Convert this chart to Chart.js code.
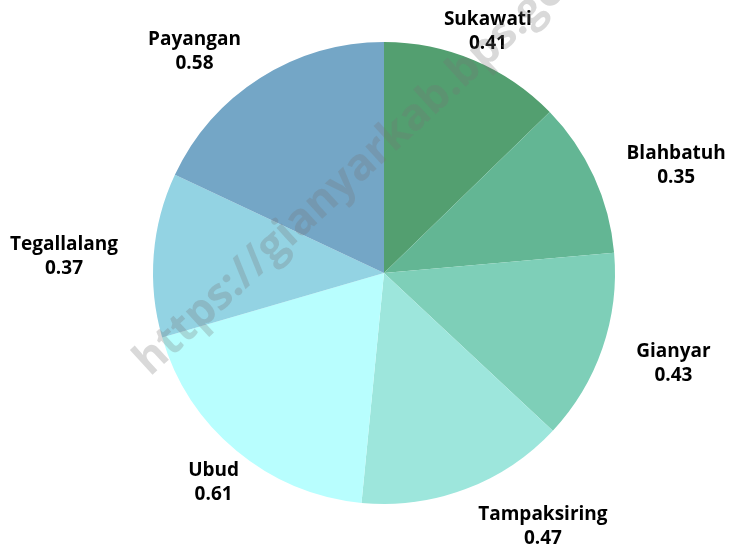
<!DOCTYPE html>
<html>
<head>
<meta charset="utf-8">
<script src="https://cdn.jsdelivr.net/npm/chart.js@4"></script>
<style>
  html, body { margin:0; padding:0; background:#fff; }
  #wrap { width:729px; height:549px; position:relative; }
</style>
</head>
<body>
<div id="wrap"><canvas id="pie"></canvas></div>
<script>
// kecamatan & values
const districts = ['Sukawati','Blahbatuh','Gianyar','Tampaksiring','Ubud','Tegallalang','Payangan'];
const values = [0.41, 0.35, 0.43, 0.47, 0.61, 0.37, 0.58];
const colors = ['#539f70','#63b694','#7ecfb8','#9de6dc','#b8fefe','#93d3e3','#74a6c6'];

const LABEL_FONT = 'bold 19px "Open Sans", sans-serif';
const LINE_H = 24;

// outside labels, two lines (name + value)
const outsideLabels = {
  id:'outsideLabels',
  afterDatasetsDraw(chart){
    const ctx = chart.ctx;
    const meta = chart.getDatasetMeta(0);
    ctx.save();
    ctx.font = LABEL_FONT;
    ctx.fillStyle = '#000';
    ctx.textAlign = 'center';
    ctx.textBaseline = 'middle';
    meta.data.forEach((arc, i)=>{
      const p = arc.getProps(['x','y','startAngle','endAngle','outerRadius'], true);
      const mid = (p.startAngle + p.endAngle)/2;
      const r = p.outerRadius;
      const R = r * 1.155;
      const name = districts[i];
      const val = values[i].toFixed(2);
      const w = Math.max(ctx.measureText(name).width, ctx.measureText(val).width);
      const h = LINE_H*2 - 4;
      let lx = p.x + Math.cos(mid)*R;
      let ly = p.y + Math.sin(mid)*R + 4;
      // push sideways if the box would touch the pie
      const nx = Math.max(Math.abs(lx-p.x) - w/2, 0);
      const ny = Math.max(Math.abs(ly-4-p.y) - h/2, 0);
      if (Math.hypot(nx, ny) < r + 0.3) {
        lx += Math.sign(Math.cos(mid)) * w/2;
      }
      ctx.fillText(name, lx, ly - LINE_H/2);
      ctx.fillText(val, lx, ly + LINE_H/2);
    });
    ctx.restore();
  }
};

// faint site watermark
const watermark = {
  id:'watermark',
  afterDraw(chart){
    const ctx = chart.ctx;
    const a = chart.getDatasetMeta(0).data[0];
    ctx.save();
    ctx.translate(a.x - 234, a.y + 104);
    ctx.rotate(-42.6 * Math.PI/180);
    ctx.font = 'bold 44px "Open Sans", sans-serif';
    ctx.fillStyle = 'rgba(120,120,120,0.28)';
    ctx.textAlign = 'left';
    ctx.textBaseline = 'alphabetic';
    ctx.fillText('https://gianyarkab.bps.go.id', 0, 0);
    ctx.restore();
  }
};

new Chart(document.getElementById('pie'), {
  type:'pie',
  data:{
    labels: districts,
    datasets:[{
      data: values,
      backgroundColor: colors,
      borderWidth: 0
    }]
  },
  options:{
    responsive:true,
    maintainAspectRatio:false,
    animation:false,
    layout:{ padding:{ top:42, bottom:45, left:153, right:114 } },
    plugins:{ legend:{ display:false }, tooltip:{ enabled:false } }
  },
  plugins:[outsideLabels, watermark]
});
</script>
</body>
</html>
